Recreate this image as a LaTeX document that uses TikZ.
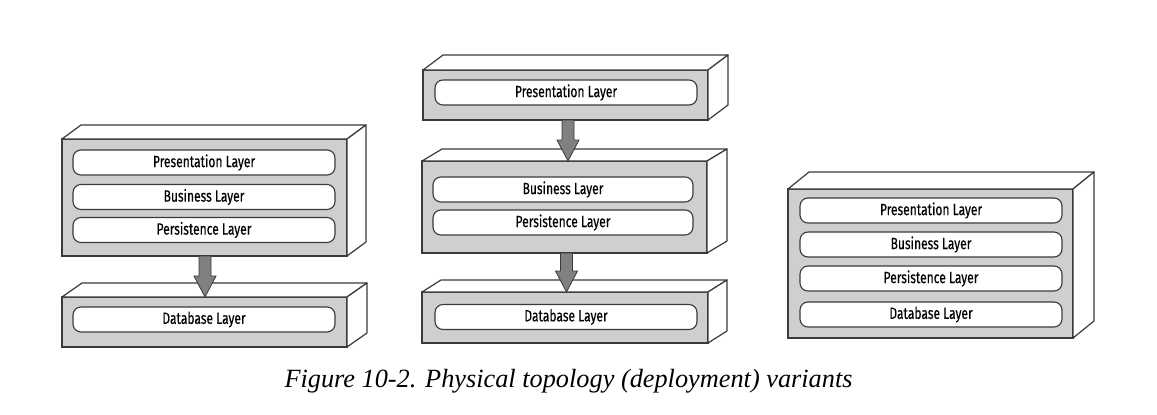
\documentclass[tikz,border=0pt]{standalone}
\usepackage{fontspec}
\setmainfont{Liberation Serif}
\newfontfamily\pillfont[FakeStretch=0.74,FakeBold=0.35]{Fira Sans}
\usetikzlibrary{calc}
\definecolor{facegray}{HTML}{CFCFCF}
\definecolor{edge}{HTML}{3A3A3A}
\definecolor{arrowgray}{HTML}{808080}

% #1 name, #2 x, #3 y, #4 width, #5 height, #6 dx, #7 dy
\newcommand\tierbox[7]{%
  \node[front, minimum width=#4pt, minimum height=#5pt] (#1) at (#2,#3) {};
  \draw[face] (#1.north west) -- ++(#6,-#7) -- ($(#1.north east)+(#6,-#7)$) -- (#1.north east) -- cycle;
  \draw[face] (#1.north east) -- ++(#6,-#7) -- ($(#1.south east)+(#6,-#7)$) -- (#1.south east) -- cycle;
}
% #1 from, #2 to, #3 x offset
\newcommand\tierarrow[3]{%
  \draw[bigarrow] let \p1=($(#1.south)+(#3,0)$), \p2=(#2.north) in
    (\x1-6pt,\y1) -- (\x1-6pt,\y2+21pt) -- (\x1-11pt,\y2+21pt) -- (\x1,\y2)
    -- (\x1+11pt,\y2+21pt) -- (\x1+6pt,\y2+21pt) -- (\x1+6pt,\y1) -- cycle;
}

\begin{document}
\begin{tikzpicture}[x=1pt,y=-1pt,
  front/.style={draw=edge, line width=1.2pt, fill=facegray, inner sep=0pt, outer sep=0pt, anchor=north west},
  face/.style={draw=edge, line width=1.2pt, fill=white, line join=round},
  pill/.style={draw=edge, line width=1.1pt, fill=white, rounded corners=8pt, inner sep=0pt,
    minimum height=25pt, minimum width=262pt, font=\pillfont\fontsize{16.3}{18}\selectfont},
  bigarrow/.style={draw=edge, line width=0.8pt, fill=arrowgray, line join=miter}
]
\useasboundingbox (0,0) rectangle (1157,415);

% left stack
\tierbox{L1}{62}{139}{285}{117}{19}{14}
\tierbox{L2}{62}{297}{285}{50}{20}{14}
\node[pill] (l1p) at (204,162.5) {Presentation Layer};
\node[pill] (l1b) at (204,197) {Business Layer};
\node[pill] (l1s) at (204,230) {Persistence Layer};
\node[pill] (l2d) at (204,319.5) {Database Layer};
\tierarrow{L1}{L2}{0.5}

% middle stack
\tierbox{M1}{423}{70}{285}{50}{20}{15}
\tierbox{M2}{422}{161}{285}{92}{20}{12}
\tierbox{M3}{422}{292}{286}{51}{19}{12}
\node[pill] (m1p) at (566,92.5) {Presentation Layer};
\node[pill, minimum width=260pt] (m2b) at (563,189.5) {Business Layer};
\node[pill, minimum width=260pt] (m2s) at (563,222.5) {Persistence Layer};
\node[pill] (m3d) at (566,317) {Database Layer};
\tierarrow{M1}{M2}{2.5}
\tierarrow{M2}{M3}{2}

% right stack
\tierbox{R}{788}{189}{285}{149}{21}{17}
\node[pill] (rp) at (931,210.5) {Presentation Layer};
\node[pill] (rb) at (931,244.5) {Business Layer};
\node[pill] (rs) at (931,278.5) {Persistence Layer};
\node[pill] (rd) at (931,314.5) {Database Layer};

% caption
\node[anchor=base, inner sep=0pt, font=\fontsize{26.3}{29}\selectfont\itshape] (cap) at (568.5,387)
  {Figure 10-2. Physical topology (deployment) variants};
\end{tikzpicture}
\end{document}
